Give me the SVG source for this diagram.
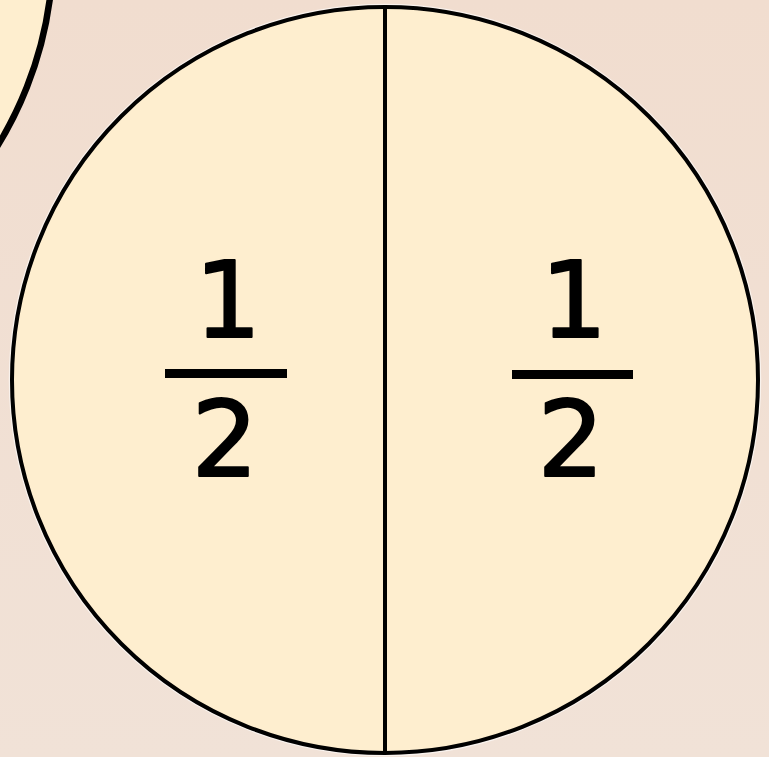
<svg xmlns="http://www.w3.org/2000/svg" width="769" height="757" viewBox="0 0 769 757">
  <defs>
    <linearGradient id="bg" x1="0" y1="0" x2="0" y2="1">
      <stop offset="0" stop-color="#f1ddcf"/>
      <stop offset="1" stop-color="#f1e2d7"/>
    </linearGradient>
    <style>
      .disc { fill: #feeecf; stroke: #000; }
      .num { font-family: "DejaVu Sans", sans-serif; font-size: 105px; fill: #000; stroke: #000; stroke-width: 2px; stroke-linejoin: round; text-anchor: middle; }
      .bar { fill: #000; }
    </style>
  </defs>
  <rect width="769" height="757" fill="url(#bg)"/>
  <g id="corner-circle">
    <circle class="disc" cx="-320" cy="-50" r="373" stroke-width="6.5"/>
  </g>
  <g id="whole-circle">
    <circle cx="385" cy="380" r="375.5" fill="none" stroke="#ffffff" stroke-opacity="0.6" stroke-width="1.5"/>
    <circle class="disc" cx="385" cy="380" r="373" stroke-width="4"/>
  </g>
  <g id="connectors">
    <line x1="385" y1="9" x2="385" y2="751" stroke="#000" stroke-width="4"/>
  </g>
  <g id="left-half">
    <text class="num" x="228" y="337">1</text>
    <rect class="bar" x="165" y="369" width="122" height="9"/>
    <text class="num" x="225" y="476">2</text>
  </g>
  <g id="right-half">
    <text class="num" x="574" y="337">1</text>
    <rect class="bar" x="512" y="370" width="121" height="9"/>
    <text class="num" x="571" y="476">2</text>
  </g>
</svg>
